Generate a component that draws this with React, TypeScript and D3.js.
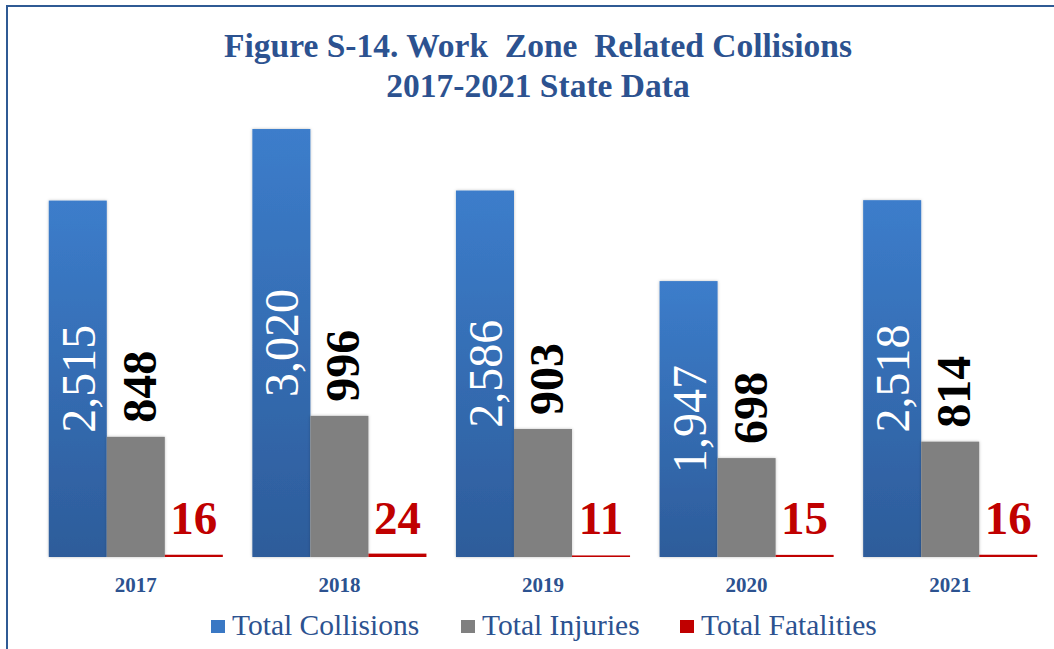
import React, { useEffect, useRef } from 'react';
import * as d3 from 'd3';

const years = ['2017', '2018', '2019', '2020', '2021'];
const seriesNames = ['Total Collisions', 'Total Injuries', 'Total Fatalities'];
const collisions = [2515, 3020, 2586, 1947, 2518];
const injuries = [848, 996, 903, 698, 814];
const fatalities = [16, 24, 11, 15, 16];
const titleLines = ['Figure S-14. Work  Zone  Related Collisions', '2017-2021 State Data'];

const WIDTH = 1054;
const HEIGHT = 649;
const FONT = "'Liberation Serif', 'Times New Roman', Times, serif";
const TEXT_BLUE = '#2c5290';
const COLORS = ['url(#blueGrad)', '#808080', '#c00000'];
const LEGEND_COLORS = ['#3a78c4', '#808080', '#c00000'];

const App: React.FC = () => {
  const svgRef = useRef<SVGSVGElement>(null);

  useEffect(() => {
    if (!svgRef.current) return;
    const svg = d3.select(svgRef.current);
    svg.selectAll('*').remove();

    const defs = svg.append('defs');
    const grad = defs.append('linearGradient')
      .attr('id', 'blueGrad')
      .attr('x1', 0).attr('y1', 0).attr('x2', 0).attr('y2', 1);
    grad.append('stop').attr('offset', '0%').attr('stop-color', '#3c7dcb');
    grad.append('stop').attr('offset', '100%').attr('stop-color', '#2d5c9a');

    const shadow = defs.append('filter').attr('id', 'shadow')
      .attr('x', '-20%').attr('y', '-20%').attr('width', '140%').attr('height', '140%');
    shadow.append('feDropShadow')
      .attr('dx', 0).attr('dy', 0).attr('stdDeviation', 1.5)
      .attr('flood-color', '#000').attr('flood-opacity', 0.25);

    svg.append('rect')
      .attr('width', WIDTH).attr('height', HEIGHT).attr('fill', '#fff');

    // chart frame (clipped at right and bottom)
    svg.append('rect')
      .attr('x', 7).attr('y', 6)
      .attr('width', WIDTH + 20).attr('height', HEIGHT + 20)
      .attr('fill', 'none')
      .attr('stroke', '#2f5a94')
      .attr('stroke-width', 2);

    // title
    const title = svg.append('text')
      .attr('text-anchor', 'middle')
      .style('font-family', FONT)
      .style('font-weight', 'bold')
      .style('font-size', '33.5px')
      .attr('fill', TEXT_BLUE)
      .style('white-space', 'pre');
    titleLines.forEach((line, i) => {
      title.append('tspan')
        .attr('x', 538)
        .attr('y', 57 + i * 40)
        .text(line);
    });

    const x0 = d3.scaleBand<string>()
      .domain(years)
      .range([34, 1052])
      .paddingInner(0.145)
      .paddingOuter(0.0725);

    const x1 = d3.scaleBand<number>()
      .domain([0, 1, 2])
      .range([0, x0.bandwidth()]);

    const y = d3.scaleLinear()
      .domain([0, 3500])
      .range([557, 61]);

    const seriesValues = [collisions, injuries, fatalities];

    years.forEach((yr, i) => {
      const gx = x0(yr)!;
      const g = svg.append('g').attr('transform', `translate(${gx},0)`);

      seriesValues.forEach((vals, s) => {
        const v = vals[i];
        g.append('rect')
          .attr('x', x1(s)!)
          .attr('y', y(v))
          .attr('width', x1.bandwidth())
          .attr('height', y(0) - y(v))
          .attr('fill', COLORS[s])
          .attr('filter', s < 2 ? 'url(#shadow)' : null);
      });

      const cx = (s: number) => x1(s)! + x1.bandwidth() / 2;

      // collisions label, rotated, centered in bar
      const cy = (y(collisions[i]) + y(0)) / 2;
      g.append('text')
        .attr('transform', `translate(${cx(0) + 17},${cy}) rotate(-90)`)
        .attr('text-anchor', 'middle')
        .style('font-family', FONT)
        .style('font-weight', '400')
        .style('font-size', '48px')
        .attr('fill', '#fff')
        .text(d3.format(',')(collisions[i]));

      // injuries label, rotated, above bar
      g.append('text')
        .attr('transform', `translate(${cx(1) + 20},${y(injuries[i]) - 14}) rotate(-90)`)
        .attr('text-anchor', 'start')
        .style('font-family', FONT)
        .style('font-weight', 'bold')
        .style('font-size', '48px')
        .attr('fill', '#000')
        .text(d3.format(',')(injuries[i]));

      // fatalities label
      g.append('text')
        .attr('x', cx(2))
        .attr('y', 534)
        .attr('text-anchor', 'middle')
        .style('font-family', FONT)
        .style('font-weight', 'bold')
        .style('font-size', '47px')
        .attr('fill', '#c00000')
        .text(fatalities[i]);

      // category label
      g.append('text')
        .attr('x', x0.bandwidth() / 2)
        .attr('y', 592)
        .attr('text-anchor', 'middle')
        .style('font-family', FONT)
        .style('font-weight', 'bold')
        .style('font-size', '21px')
        .attr('fill', TEXT_BLUE)
        .text(yr);
    });

    // legend
    const legendX = [211, 461, 680];
    seriesNames.forEach((name, s) => {
      const lg = svg.append('g').attr('transform', `translate(${legendX[s]},0)`);
      lg.append('rect')
        .attr('x', 0).attr('y', 620)
        .attr('width', 14).attr('height', 13)
        .attr('fill', LEGEND_COLORS[s]);
      lg.append('text')
        .attr('x', 21).attr('y', 635)
        .style('font-family', FONT)
        .style('font-weight', '400')
        .style('font-size', '29.5px')
        .attr('fill', TEXT_BLUE)
        .text(name);
    });
  }, []);

  return (
    <svg
      ref={svgRef}
      width={WIDTH}
      height={HEIGHT}
      style={{ position: 'absolute', left: 0, top: 0, display: 'block' }}
    />
  );
};

export default App;
